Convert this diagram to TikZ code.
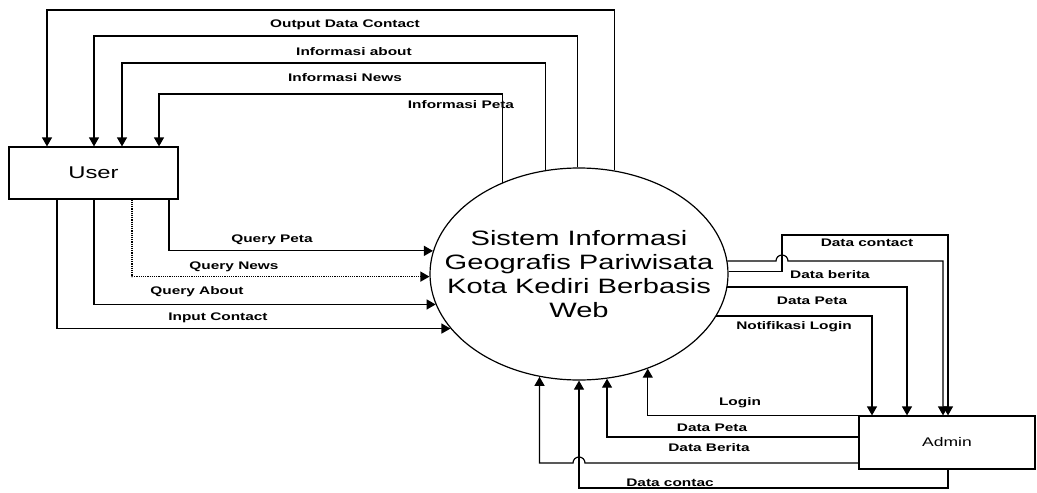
\documentclass[tikz,border=0pt]{standalone}
\usepackage{fontspec}
\newfontfamily\dfdfont[FakeStretch=1.4]{Liberation Sans}
\usetikzlibrary{shapes.geometric,arrows.meta}
\tikzset{entity/.style={draw,rectangle,line width=1.2pt,inner sep=0pt},
         proc/.style={draw,ellipse,line width=1.2pt,minimum width=298pt,minimum height=212pt,inner sep=0pt},
         flow/.style={draw,line width=1.2pt,-{Triangle[length=9pt,width=10pt]}},
         lbl/.style={font=\dfdfont\bfseries\fontsize{11}{13}\selectfont,inner sep=1pt}}

\begin{document}
\begin{tikzpicture}[x=1pt,y=-1pt]
\useasboundingbox (0,0) rectangle (1037,493);
% entitas luar dan proses
\node[entity,minimum width=169pt,minimum height=52pt,font=\dfdfont\fontsize{17}{20}\selectfont] (user) at (93.5,173) {User};
\node[entity,minimum width=176pt,minimum height=53pt,font=\dfdfont\fontsize{12.5}{14}\selectfont] (admin) at (947,442.5) {Admin};
\node[proc] (sys) at (579,274) {};
\node[align=center,font=\dfdfont\fontsize{20.8}{24}\selectfont] (sysText) at (sys.center)
  {Sistem Informasi\\Geografis Pariwisata\\Kota Kediri Berbasis\\Web};

% sistem -> user
\draw[flow] (sys.71) |- (47,10) -- (47,0 |- user.north);
\draw[flow] (sys.91) |- (94,36) -- (94,0 |- user.north);
\draw[flow] (sys.108) |- (122,63) -- (122,0 |- user.north);
\draw[flow] (sys.130) |- (159,94) -- (159,0 |- user.north);
\node[lbl] (lOutContact) at (345,25) {Output Data Contact};
\node[lbl] (lInfoAbout) at (354,52) {Informasi about};
\node[lbl] (lInfoNews) at (345,78) {Informasi News};
\node[lbl] (lInfoPeta) at (461,105) {Informasi Peta};

% user -> sistem
\draw[flow] (169,0 |- user.south) |- (sys.171);
\draw[flow,densely dotted] (132,0 |- user.south) |- (sys.181);
\draw[flow] (94,0 |- user.south) |- (sys.192);
\draw[flow] (57,0 |- user.south) |- (sys.203);
\node[lbl] (lQPeta) at (272,240) {Query Peta};
\node[lbl] (lQNews) at (234,267) {Query News};
\node[lbl] (lQAbout) at (197,292) {Query About};
\node[lbl] (lInContact) at (218,318) {Input Contact};

% sistem -> admin
\draw[flow] (sys.1) -| (782,235) -| (948,0 |- admin.north);
\draw[flow] (sys.5) -- (776,0 |- sys.5) arc[start angle=180,end angle=0,radius=6pt] -| (943,0 |- admin.north);
\draw[flow] (sys.-5) -| (907,0 |- admin.north);
\draw[flow] (sys.-17) -| (872,0 |- admin.north);
\node[lbl] (lDContact) at (867,243) {Data contact};
\node[lbl] (lDBerita) at (830,275) {Data berita};
\node[lbl] (lDPeta) at (812,301) {Data Peta};
\node[lbl] (lNotif) at (794,327) {Notifikasi Login};

% admin -> sistem
\draw[flow] (admin.north west) -| (sys.-54);
\draw[flow] (admin.west |- 0,437) -| (sys.-75);
\draw[flow] (admin.west |- 0,463) -- (585,463) arc[start angle=0,end angle=180,radius=6pt] -| (sys.-111);
\draw[flow] (948,0 |- admin.south) |- (sys.south |- 0,488) -- (sys.south);
\node[lbl] (lLogin) at (740,403) {Login};
\node[lbl] (lDPeta2) at (712,428) {Data Peta};
\node[lbl] (lDBerita2) at (709,448) {Data Berita};
\node[lbl] (lDContac) at (670,483) {Data contac};
\end{tikzpicture}
\end{document}
